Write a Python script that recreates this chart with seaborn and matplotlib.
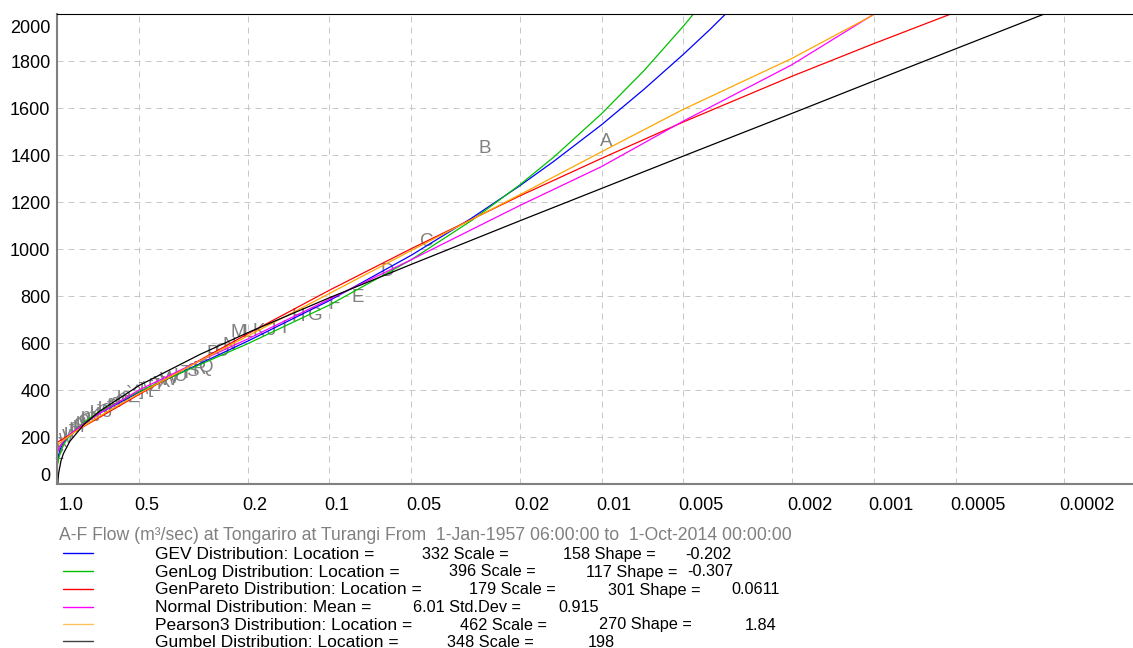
import numpy as np
import pandas as pd
import matplotlib
matplotlib.use("Agg")
import matplotlib.pyplot as plt
import matplotlib.transforms as mtrans
import seaborn as sns

# fitted curves (exceedance probability -> flow m3/s)
gev_p = [0.995, 0.99, 0.97, 0.95, 0.9, 0.8, 0.7, 0.5, 0.3, 0.2, 0.1, 0.05, 0.03, 0.02, 0.015,
         0.01, 0.007, 0.005, 0.004, 0.003]
gev_q = [108, 124, 157, 176, 211, 260, 303, 392, 513, 609, 782, 975, 1133, 1270, 1374,
         1530, 1680, 1830, 1935, 2078]

genlog_p = [0.995, 0.99, 0.97, 0.95, 0.9, 0.8, 0.7, 0.5, 0.3, 0.2, 0.1, 0.05, 0.03, 0.02, 0.015,
            0.01, 0.007, 0.005, 0.0045, 0.004]
genlog_q = [90, 108, 146, 169, 209, 264, 309, 396, 509, 598, 763, 956, 1123, 1274, 1392,
            1577, 1759, 1950, 2014, 2089]

genpar_p = [1.0, 0.999, 0.99, 0.95, 0.9, 0.8, 0.7, 0.5, 0.3, 0.2, 0.1, 0.05, 0.02, 0.01, 0.005,
            0.002, 0.001, 0.0005, 0.0004]
genpar_q = [0, 179, 182, 194, 211, 246, 285, 383, 528, 640, 826, 1003, 1227, 1387, 1542,
            1736, 1875, 2009, 2051]

normal_p = [0.995, 0.99, 0.95, 0.9, 0.8, 0.7, 0.5, 0.3, 0.2, 0.1, 0.05, 0.02, 0.01, 0.005,
            0.002, 0.001, 0.0008]
normal_q = [140, 150, 182, 212, 258, 302, 402, 525, 618, 788, 956, 1186, 1352, 1546,
            1785, 2000, 2060]

p3_p = [0.995, 0.99, 0.95, 0.9, 0.8, 0.7, 0.5, 0.3, 0.2, 0.1, 0.05, 0.02, 0.01, 0.005,
        0.002, 0.001, 0.0008]
p3_q = [169, 171, 188, 208, 248, 290, 387, 525, 631, 812, 995, 1232, 1415, 1596,
        1812, 1998, 2050]

gumbel_p = [0.999, 0.995, 0.99, 0.97, 0.95, 0.9, 0.8, 0.7, 0.5, 0.3, 0.2, 0.1, 0.05, 0.02, 0.01,
            0.005, 0.002, 0.001, 0.0005, 0.0002, 0.0001]
gumbel_q = [-35, 18, 46, 100, 131, 183, 254, 311, 421, 552, 645, 794, 936, 1121, 1259,
            1397, 1578, 1716, 1853, 2034, 2172]

# annual maxima, plotted as letters A.. z
obs_p = [0.00964, 0.0268, 0.0440, 0.0613, 0.0785, 0.0957, 0.113, 0.130, 0.147, 0.164,
         0.182, 0.199, 0.216, 0.233, 0.250, 0.268, 0.285, 0.302, 0.319, 0.337,
         0.354, 0.371, 0.388, 0.405, 0.423, 0.440, 0.457, 0.474, 0.491, 0.509,
         0.526, 0.543, 0.560, 0.577, 0.595, 0.612, 0.629, 0.646, 0.663, 0.681,
         0.698, 0.715, 0.732, 0.750, 0.767, 0.784, 0.801, 0.818, 0.836, 0.853,
         0.870, 0.887, 0.904, 0.922, 0.939, 0.956, 0.973, 0.990]
obs_q = [1459, 1431, 1034, 906, 793, 765, 720, 716, 662, 656,
         650, 648, 647, 592, 565, 555, 497, 488, 478, 470,
         460, 450, 441, 432, 425, 418, 408, 402, 398, 392,
         388, 381, 372, 366, 358, 348, 340, 332, 324, 318,
         312, 306, 300, 294, 288, 281, 274, 267, 260, 252,
         243, 233, 222, 210, 196, 178, 155, 125]
obs_labels = [chr(65 + i) for i in range(len(obs_q))]

x_ticks = [1.0, 0.5, 0.2, 0.1, 0.05, 0.02, 0.01, 0.005, 0.002, 0.001, 0.0005, 0.0002]
x_ticklabels = ["1.0", "0.5", "0.2", "0.1", "0.05", "0.02", "0.01", "0.005", "0.002", "0.001", "0.0005", "0.0002"]
y_ticks = [0, 200, 400, 600, 800, 1000, 1200, 1400, 1600, 1800, 2000]

dist_names = ["GEV", "GenLog", "GenPareto", "Normal", "Pearson3", "Gumbel"]
line_colors = {"GEV": "#0000ff", "GenLog": "#00c000", "GenPareto": "#ff0000",
               "Normal": "#ff00ff", "Pearson3": "#ffa500", "Gumbel": "#000000"}
legend_colors = ["#0000ff", "#00c000", "#ff0000", "#ff00ff", "#ffc060", "#404040"]

title_text = "A-F Flow (m\u00b3/sec) at Tongariro at Turangi From  1-Jan-1957 06:00:00 to  1-Oct-2014 00:00:00"
legend_rows = [
    [(155, "GEV Distribution: Location ="), (421.7, "332 Scale ="), (563.3, "158 Shape ="), (685, "-0.202")],
    [(155, "GenLog Distribution: Location ="), (449.3, "396 Scale ="), (585.7, "117 Shape ="), (687.7, "-0.307")],
    [(155, "GenPareto Distribution: Location ="), (469.3, "179 Scale ="), (608.3, "301 Shape ="), (731.7, "0.0611")],
    [(155, "Normal Distribution: Mean ="), (412.7, "6.01 Std.Dev ="), (558.3, "0.915")],
    [(155, "Pearson3 Distribution: Location ="), (460, "462 Scale ="), (599.3, "270 Shape ="), (745, "1.84")],
    [(155, "Gumbel Distribution: Location ="), (447, "348 Scale ="), (588, "198")],
]
legend_y = [553.3, 571, 589, 606.7, 624, 641.3]

curves = pd.concat([
    pd.DataFrame({"dist": "GEV", "p": gev_p, "q": gev_q}),
    pd.DataFrame({"dist": "GenLog", "p": genlog_p, "q": genlog_q}),
    pd.DataFrame({"dist": "GenPareto", "p": genpar_p, "q": genpar_q}),
    pd.DataFrame({"dist": "Normal", "p": normal_p, "q": normal_q}),
    pd.DataFrame({"dist": "Pearson3", "p": p3_p, "q": p3_q}),
    pd.DataFrame({"dist": "Gumbel", "p": gumbel_p, "q": gumbel_q}),
], ignore_index=True)

sns.set_style("white")
plt.rcParams["font.family"] = ["Liberation Sans", "DejaVu Sans"]

W, H = 1133, 648
fig = plt.figure(figsize=(W / 100, H / 100), dpi=100)
ax_left, ax_top, ax_bottom = 57.4, 14.3, 484.3
ax = fig.add_axes([ax_left / W, 1 - ax_bottom / H, 1 - ax_left / W, (ax_bottom - ax_top) / H])

def fx(x):
    return x / W

def fy(y):
    return 1 - y / H

for p, q, lab in zip(obs_p, obs_q, obs_labels):
    ax.text(p, q, lab, color="#808080", fontsize=13.5, ha="center", va="center", zorder=1.5)

sns.lineplot(data=curves, x="p", y="q", hue="dist", hue_order=dist_names, palette=line_colors,
             estimator=None, units="dist", sort=False, legend=False, linewidth=0.9, ax=ax, zorder=2)

ax.set_xscale("log")
ax.set_xlim(1.0, 1.114e-4)
ax.set_ylim(0, 2000)
ax.set_xticks(x_ticks)
ax.set_xticklabels(x_ticklabels)
ax.set_yticks(y_ticks)
ax.set_yticklabels([str(v) for v in y_ticks])
ax.minorticks_off()
ax.set_xlabel("")
ax.set_ylabel("")
ax.tick_params(axis="both", length=0, labelsize=13, colors="black")
ax.tick_params(axis="x", pad=9)
ax.tick_params(axis="y", pad=5)

for i, lbl in enumerate(ax.get_xticklabels()):
    lbl.set_ha("left")
    dx = 1 if i == 0 else -5
    lbl.set_transform(lbl.get_transform() + mtrans.ScaledTranslation(dx / 100, 0, fig.dpi_scale_trans))
ylabels = ax.get_yticklabels()
ylabels[0].set_transform(ylabels[0].get_transform() + mtrans.ScaledTranslation(0, 10 / 100, fig.dpi_scale_trans))
ylabels[-1].set_transform(ylabels[-1].get_transform() + mtrans.ScaledTranslation(0, -12 / 100, fig.dpi_scale_trans))

ax.grid(True, color="#c8c8c8", linestyle=(0, (6, 5)), linewidth=0.72)
ax.set_axisbelow(True)
ax.spines["left"].set_color("#808080")
ax.spines["left"].set_linewidth(1.5)
ax.spines["bottom"].set_color("#808080")
ax.spines["bottom"].set_linewidth(1.5)
ax.spines["top"].set_color("black")
ax.spines["top"].set_linewidth(0.8)
ax.spines["right"].set_visible(False)

# text legend below the plot, each row on a common baseline
fig.text(fx(59), fy(535.7), title_text, color="#808080", fontsize=12.7, ha="left", va="center")
for row, yy, col in zip(legend_rows, legend_y, legend_colors):
    fig.add_artist(plt.Line2D([fx(63.3), fx(92.7)], [fy(yy), fy(yy)], color=col, linewidth=1.0))
    for k, (xx, txt) in enumerate(row):
        fs = 12.5 if k == 0 else 11.7
        fig.text(fx(xx), fy(yy + 5.5), txt, color="black", fontsize=fs, ha="left", va="baseline")

fig.savefig("out.png", dpi=100)
